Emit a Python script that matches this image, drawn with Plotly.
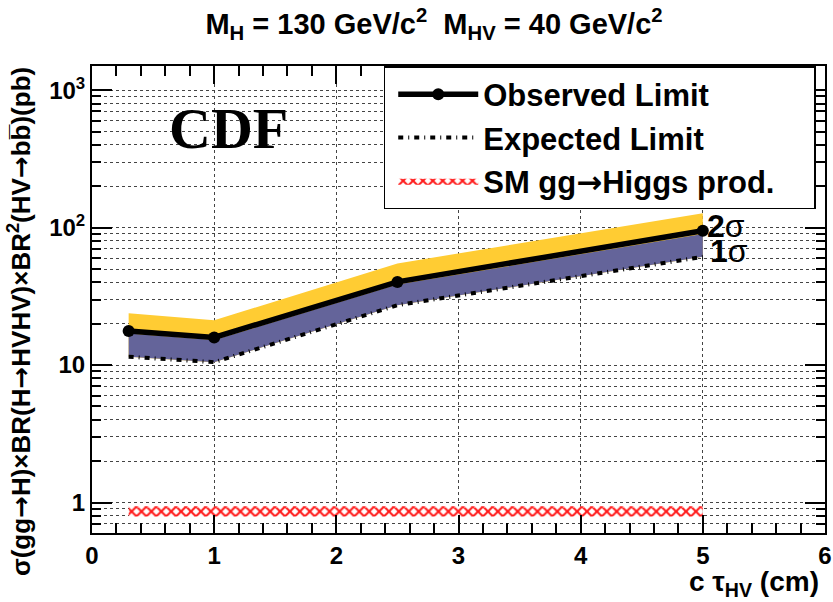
import plotly.graph_objects as go

# ---- data ----
ctau = [0.3, 1.0, 2.5, 5.0]
observed = [17.7, 15.9, 40.3, 94.8]
expected = [11.5, 10.5, 27.3, 61.3]
band2_up = [23.8, 21.2, 54.9, 127.0]
band1_up = [17.0, 15.2, 38.5, 90.0]
sm_x = [0.3, 5.0]
sm_low = [0.79, 0.79]
sm_high = [0.94, 0.94]

ytickvals = [1, 10, 100, 1000]
yticktext = ["1", "10", "10<sup>2</sup>", "10<sup>3</sup>"]

YELLOW = "#ffcc33"
PURPLE = "#64649a"
RED = "#ff1a1a"
FONT = "Liberation Sans, Arial, sans-serif"
ARROW = '<span style="font-family:DejaVu Sans">\u2192</span>'

fig = go.Figure()

# 2 sigma (yellow) band
fig.add_trace(go.Scatter(
    x=ctau + ctau[::-1], y=band2_up + expected[::-1],
    fill="toself", fillcolor=YELLOW, line=dict(width=0),
    mode="lines", showlegend=False, hoverinfo="skip"))
# 1 sigma (purple) band
fig.add_trace(go.Scatter(
    x=ctau + ctau[::-1], y=band1_up + expected[::-1],
    fill="toself", fillcolor=PURPLE, line=dict(width=0),
    mode="lines", showlegend=False, hoverinfo="skip"))
# SM band
fig.add_trace(go.Scatter(
    x=sm_x + sm_x[::-1], y=sm_high + sm_low[::-1],
    fill="toself", fillcolor="rgba(0,0,0,0)",
    fillpattern=dict(shape="x", fgcolor=RED, fgopacity=1, bgcolor="white",
                     size=7, solidity=0.5),
    line=dict(width=0, color=RED),
    mode="lines", name="SM gg" + ARROW + "Higgs prod.\u00a0\u00a0\u00a0\u00a0"))

# observed
fig.add_trace(go.Scatter(
    x=ctau, y=observed, mode="lines+markers",
    line=dict(color="black", width=5.5),
    marker=dict(color="black", size=12),
    name="Observed Limit"))
# expected
fig.add_trace(go.Scatter(
    x=ctau, y=expected, mode="lines",
    line=dict(color="black", width=4, dash="5px,5px,1px,5px"),
    name="Expected Limit"))

fig.data[3].legendrank = 1
fig.data[4].legendrank = 2
fig.data[2].legendrank = 3

minor_y = [m * 10 ** e for e in range(-1, 4) for m in range(2, 10)
           if 0.6 <= m * 10 ** e <= 1500]

fig.update_layout(
    width=833, height=602,
    margin=dict(l=92, r=8, t=66, b=69, autoexpand=False),
    paper_bgcolor="white", plot_bgcolor="white",
    font=dict(family=FONT, color="black"),
    title=dict(
        text="M<sub>H</sub> = 130 GeV/c<sup>2</sup>  M<sub>HV</sub> = 40 GeV/c<sup>2</sup>",
        font=dict(family="Liberation Sans Narrow, " + FONT, size=29, weight="bold"),
        xref="container", x=434 / 833, xanchor="center",
        yref="container", y=1 - 24 / 602, yanchor="middle"),
    showlegend=True,
    legend=dict(
        x=0.398, y=1.0, xanchor="left", yanchor="top",
        bgcolor="white", bordercolor="black", borderwidth=1.5,
        font=dict(family=FONT, size=31, weight="bold"),
        itemwidth=80, tracegroupgap=0, indentation=8),
    xaxis=dict(
        range=[0, 6], tickvals=[0, 1, 2, 3, 4, 5, 6],
        ticks="inside", ticklen=18, tickwidth=1.5, tickcolor="black",
        showline=True, linecolor="black", linewidth=2, mirror="ticks",
        showgrid=True, gridcolor="#444", griddash="dot", gridwidth=1,
        zeroline=False, automargin=False,
        tickfont=dict(family=FONT, size=24, weight="bold"),
        minor=dict(dtick=0.2, ticks="inside", ticklen=10, tickcolor="black",
                   showgrid=False),
    ),
    yaxis=dict(
        type="log", range=[-0.2218, 3.1761],
        tickmode="array", tickvals=ytickvals, ticktext=yticktext,
        ticks="inside", ticklen=20, tickwidth=1.5, tickcolor="black",
        showline=True, linecolor="black", linewidth=2, mirror="ticks",
        showgrid=True, gridcolor="#444", griddash="dot", gridwidth=1,
        zeroline=False, automargin=False,
        tickfont=dict(family=FONT, size=24, weight="bold"),
        minor=dict(tickmode="array", tickvals=minor_y, ticks="inside",
                   ticklen=9, tickcolor="black", showgrid=True,
                   gridcolor="#444", griddash="dot", gridwidth=1),
    ),
)

# y-axis title as rotated annotation
fig.add_annotation(
    text="\u03c3(gg" + ARROW + "H)\u00d7BR(H" + ARROW + "HVHV)\u00d7BR<sup>2</sup>(HV"
         + ARROW + "bb\u0305)(pb)",
    xref="paper", yref="paper", x=-0.098, y=0.452,
    xanchor="center", yanchor="middle", textangle=-90, showarrow=False,
    font=dict(family=FONT, size=26, weight="bold"))
# x-axis title
fig.add_annotation(
    text="c \u03c4<sub>HV</sub> (cm)", xref="paper", yref="paper",
    x=0.995, y=-0.108, xanchor="right", yanchor="middle", showarrow=False,
    font=dict(family=FONT, size=28, weight="bold"))
fig.add_annotation(
    text="CDF", xref="paper", yref="paper",
    x=(228 - 92) / 733, y=(533 - 128) / 467, xanchor="center", yanchor="middle",
    showarrow=False,
    font=dict(family="Liberation Serif, Times New Roman, serif", size=58, weight="bold"))
fig.add_annotation(
    text="<b>2</b>\u03c3", xref="x", yref="y", x=5.02, y=2.015, xanchor="left",
    yanchor="middle", showarrow=False, font=dict(family=FONT, size=32))
fig.add_annotation(
    text="<b>1</b>\u03c3", xref="x", yref="y", x=5.04, y=1.830, xanchor="left",
    yanchor="middle", showarrow=False, font=dict(family=FONT, size=32))

fig.write_html("out.html", config={"displayModeBar": False},
               post_script="document.body.style.margin='0';")
